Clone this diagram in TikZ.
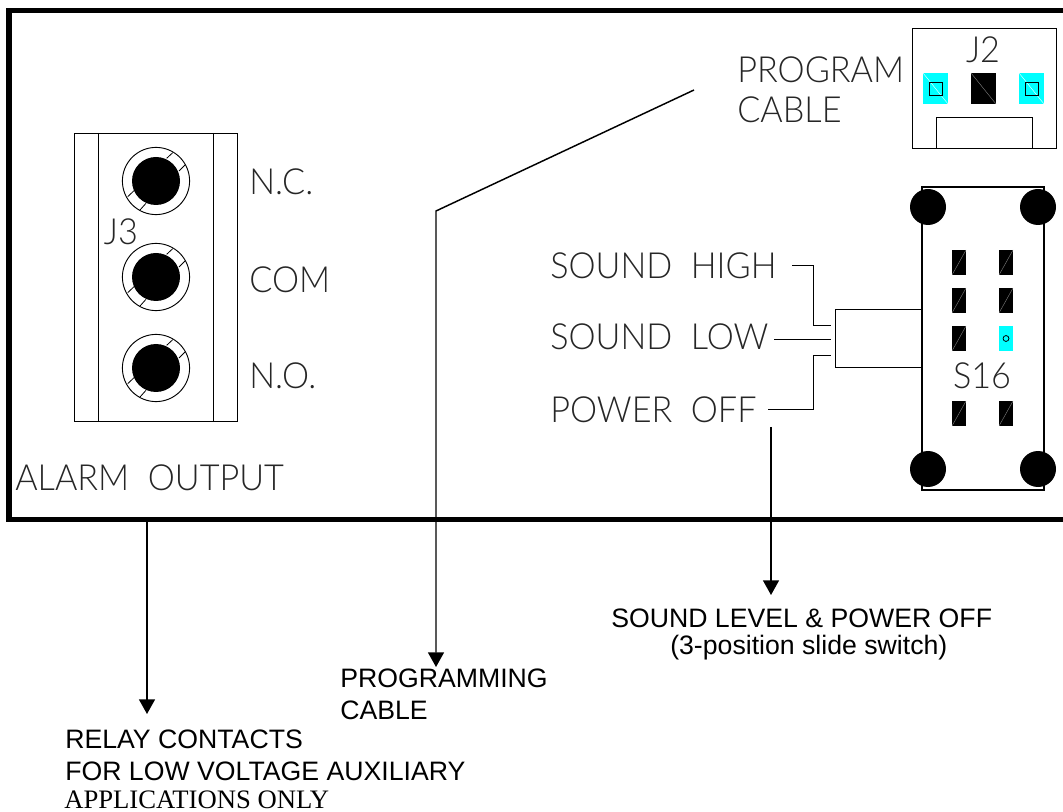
\documentclass[tikz,border=0pt]{standalone}
\usepackage{fontspec}
\usetikzlibrary{calc}
\usetikzlibrary{arrows.meta}
\setmainfont{Liberation Sans}
\newfontfamily\cadfont{Lato}[UprightFont=* Light, FakeStretch=.95]
\newfontfamily\timesfont{Liberation Serif}
\definecolor{padcyan}{RGB}{0,255,255}
\tikzset{
    cadlabel/.style={font=\cadfont\fontsize{27}{27}\selectfont, inner sep=0pt, text=black!85},
    notelabel/.style={font=\fontsize{20}{24}\selectfont, inner sep=0pt, anchor=base west},
    pad/.style={inner sep=0pt, minimum width=10.5pt, minimum height=18.75pt},
    wide pad/.style={inner sep=0pt, minimum width=18.75pt, minimum height=23.25pt},
    slash up/.style={path picture={\draw[#1, line width=.3pt] (path picture bounding box.south west) -- (path picture bounding box.north east);}},
    slash down/.style={path picture={\draw[#1, line width=.3pt] (path picture bounding box.north west) -- (path picture bounding box.south east);}},
    corner/.style={circle, fill=black, inner sep=0pt, minimum size=27pt},
    leader/.style={draw, line width=1.1pt, -{Triangle[length=11pt,width=12pt]}},
    wire/.style={draw, line width=.7pt},
    terminal/.pic={
        \draw[line width=.7pt] (0,0) circle[radius=25.2pt];
        \fill (0,0) circle[radius=18pt];
        \draw[line width=.6pt] (10.7,-22.7) -- (16.7,-28.3);
        \draw[line width=.6pt] (23,-10) -- (29,-16);
        \draw[line width=.6pt] (-28.3,15.7) -- (-22,9.7);
        \draw[line width=.6pt] (-16,29) -- (-10,22.3);
    },
}
\begin{document}
\begin{tikzpicture}[x=.75pt, y=-.75pt]
    \useasboundingbox (0,0) rectangle (1063,812);
    % front panel
    \draw[line width=4.1pt] (1063,10.5) -- (9,10.5) -- (9,519.5) -- (1063,519.5);
    % alarm terminal block
    \draw[line width=.7pt] (74,421) -- (74,133) -- (237,133) -- (237,421) -- cycle;
    \draw[line width=.7pt] (98,133) -- (98,421);
    \draw[line width=.7pt] (213,133) -- (213,421);
    \pic at (156,181) {terminal};
    \pic at (156,277) {terminal};
    \pic at (156,368) {terminal};
    \node[cadlabel] (J3) at (121,232) {J3};
    \node[cadlabel, anchor=west] (NC) at (249,182) {N.C.};
    \node[cadlabel, anchor=west] (COM) at (249,280) {COM};
    \node[cadlabel, anchor=west] (NO) at (249,376) {N.O.};
    \node[cadlabel, anchor=west] (alarm) at (15,478) {ALARM\ \ OUTPUT};
    % program connector
    \draw[line width=.7pt] (912,28) rectangle (1056,148);
    \draw[line width=.7pt] (936,148) -- (936,117) -- (1032,117) -- (1032,148);
    \node[cadlabel] (J2) at (983,50) {J2};
    \node[wide pad, fill=padcyan, slash down=white] (pad a) at (935.5,88.5) {};
    \node[wide pad, fill=black, slash down=gray] (pad b) at (983.5,88.5) {};
    \node[wide pad, fill=padcyan, slash down=white] (pad c) at (1031.5,88.5) {};
    \draw[line width=.6pt] (929,82) rectangle (942,95);
    \draw[line width=.6pt] (1025,82) rectangle (1038,95);
    \node[cadlabel, anchor=west] (program) at (737,70) {PROGRAM};
    \node[cadlabel, anchor=west] (cable) at (737,110) {CABLE};
    % slide switch
    \draw[line width=.9pt] (922,187) rectangle (1044,490);
    \draw[line width=.7pt] (922,309) -- (835,309) -- (835,367) -- (922,367);
    \node[corner] (corner a) at (928,207) {};
    \node[corner] (corner b) at (1038,207) {};
    \node[corner] (corner c) at (928,469) {};
    \node[corner] (corner d) at (1038,469) {};
    \node[pad, fill=black, slash up=gray] (pin a) at (959,262.5) {};
    \node[pad, fill=black, slash up=gray] (pin b) at (1006,262.5) {};
    \node[pad, fill=black, slash up=gray] (pin c) at (959,300.5) {};
    \node[pad, fill=black, slash up=gray] (pin d) at (1006,300.5) {};
    \node[pad, fill=black, slash up=gray] (pin e) at (959,338.5) {};
    \node[pad, fill=padcyan] (pin f) at (1006,338.5) {};
    \node[pad, fill=black, slash up=gray] (pin g) at (959,413.5) {};
    \node[pad, fill=black, slash up=gray] (pin h) at (1006,413.5) {};
    \draw[line width=.6pt] (pin f) circle[radius=2.2pt];
    \node[cadlabel] (S16) at (982,376) {S16};
    \node[cadlabel, anchor=west] (high) at (550,266) {SOUND\ \ HIGH};
    \node[cadlabel, anchor=west] (low) at (550,337) {SOUND\ \ LOW};
    \node[cadlabel, anchor=west] (off) at (550,410) {POWER\ \ OFF};
    \coordinate (high end) at (792,265);
    \coordinate (low end) at (774,339);
    \coordinate (off end) at (768,409);
    \draw[wire] (high end) -- (813,265) -- (813,325) -- (831,325);
    \draw[wire] (low end) -- (831,339);
    \draw[wire] (off end) -- (813,409) -- (813,355) -- (831,355);
    % notes below the panel
    \node[notelabel] (note switch) at (611,627) {SOUND LEVEL \& POWER OFF};
    \node[notelabel] (note slide) at (670,654) {(3-position slide switch)};
    \node[notelabel] (note prog) at (340,687) {PROGRAMMING};
    \node[notelabel] (note cable) at (340,719) {CABLE};
    \node[notelabel] (note relay) at (65,748) {RELAY CONTACTS};
    \node[notelabel] (note low) at (65,780) {FOR LOW VOLTAGE AUXILIARY};
    \node[notelabel, font=\timesfont\fontsize{20}{24}\selectfont] (note apps) at (64,808) {APPLICATIONS ONLY};
    \coordinate (alarm start) at (147,521);
    \coordinate (alarm tip) at (147,714);
    \coordinate (cable start) at (694,90);
    \coordinate (cable bend) at (436,211);
    \coordinate (cable tip) at (436,667);
    \coordinate (switch start) at (771,427);
    \coordinate (switch tip) at (771,595);
    \draw[leader] (alarm start) -- (alarm tip);
    \draw[leader] (cable start) -- (cable bend) -- (cable tip);
    \draw[leader] (switch start) -- (switch tip);
\end{tikzpicture}
\end{document}
